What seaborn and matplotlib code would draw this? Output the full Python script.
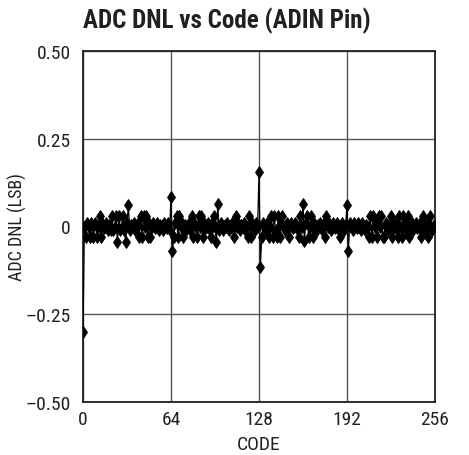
import matplotlib
matplotlib.use("Agg")
import matplotlib.pyplot as plt
import seaborn as sns
import pandas as pd

# DNL per output code (LSB)
DNL = [
    -0.30, 0.00, -0.03, 0.01, 0.00, -0.03, 0.01, -0.03, 0.005, 0.01, -0.03, 0.00, 0.03, -0.03, 0.01, -0.005,
    0.00, 0.01, -0.01, 0.005, -0.01, 0.03, -0.01, 0.00, 0.03, -0.045, 0.03, -0.01, 0.00, 0.03, -0.01, -0.043,
    0.01, 0.06, -0.01, 0.005, 0.00, 0.01, -0.01, 0.00, 0.01, -0.03, 0.03, -0.03, 0.03, 0.00, 0.03, -0.03,
    0.01, -0.03, 0.00, 0.01, -0.005, 0.00, 0.01, -0.01, 0.005, 0.00, -0.01, 0.01, 0.00, -0.005, 0.01, -0.01,
    0.085, -0.07, -0.03, 0.01, 0.03, -0.03, 0.03, 0.00, 0.01, -0.03, 0.005, -0.01, 0.00, 0.01, -0.01, 0.03,
    -0.03, 0.01, 0.00, -0.03, 0.03, 0.00, 0.03, -0.03, 0.01, -0.005, 0.00, 0.01, -0.01, -0.03, 0.01, 0.03,
    0.00, -0.045, 0.065, -0.01, 0.01, 0.00, -0.01, 0.005, 0.00, 0.01, -0.01, 0.00, 0.01, -0.005, -0.03, 0.03,
    0.00, 0.01, -0.01, 0.005, 0.00, 0.01, -0.01, 0.00, -0.03, 0.03, -0.03, 0.01, 0.00, -0.01, 0.01, 0.00,
    0.155, -0.115, -0.03, 0.01, 0.00, -0.01, 0.01, -0.03, 0.00, 0.03, -0.03, 0.03, -0.01, -0.03, 0.03, -0.03,
    0.01, 0.03, 0.00, -0.01, 0.01, 0.00, -0.03, 0.01, 0.00, -0.005, 0.01, 0.00, -0.01, -0.03, 0.03, 0.00,
    0.065, -0.04, 0.01, 0.03, -0.03, 0.00, 0.03, -0.03, 0.01, 0.00, -0.01, 0.005, 0.01, 0.00, -0.01, 0.01,
    -0.03, 0.03, 0.00, 0.01, -0.01, 0.00, 0.01, -0.005, 0.00, 0.01, -0.01, -0.03, 0.01, 0.00, -0.01, 0.005,
    0.06, -0.07, 0.01, 0.00, -0.01, 0.01, 0.00, -0.005, 0.01, 0.00, -0.01, 0.01, 0.00, -0.01, 0.005, 0.00,
    -0.03, 0.03, -0.03, 0.03, 0.00, 0.01, -0.03, 0.03, 0.00, 0.03, -0.03, -0.03, 0.01, 0.00, -0.01, 0.01,
    0.03, -0.03, 0.00, 0.01, -0.01, -0.03, 0.03, 0.00, -0.03, 0.03, 0.01, -0.01, 0.03, -0.03, 0.00, 0.01,
    -0.01, 0.00, 0.01, -0.005, 0.00, 0.01, -0.03, 0.03, 0.00, -0.01, 0.01, -0.03, 0.03, 0.00, -0.01, 0.005,
]
CODES = list(range(len(DNL)))

X_TICKS = [0, 64, 128, 192, 256]
Y_TICKS = [0.5, 0.25, 0, -0.25, -0.5]
Y_TICK_LABELS = ["0.50", "0.25", "0", "\u20130.25", "\u20130.50"]

sns.set_style("white")
FONT = ["Roboto Condensed", "Archivo Narrow", "Liberation Sans", "DejaVu Sans"]
plt.rcParams["font.family"] = FONT
TEXT_COLOR = "#231f20"

df = pd.DataFrame({"code": CODES, "dnl": DNL})

fig = plt.figure(figsize=(4.69, 4.56), dpi=100)
ax = fig.add_axes([83 / 469, 1 - 403 / 456, 352 / 469, 351 / 456])

sns.lineplot(data=df, x="code", y="dnl", ax=ax, color="black", linewidth=0.9,
             marker="d", markersize=6, markeredgecolor="black", markerfacecolor="black",
             markeredgewidth=0.6, zorder=3)

ax.set_xlim(0, 256)
ax.set_ylim(-0.5, 0.5)
ax.set_xticks(X_TICKS)
ax.set_yticks(Y_TICKS)
ax.set_yticklabels(Y_TICK_LABELS)
ax.tick_params(axis="both", length=0, labelsize=14, colors=TEXT_COLOR)
ax.tick_params(axis="y", pad=9)
ax.tick_params(axis="x", pad=6)
ax.grid(True, color="#555555", linewidth=1.0)
for s in ax.spines.values():
    s.set_color(TEXT_COLOR)
    s.set_linewidth(1.3)

ax.set_xlabel("CODE", fontsize=14, color=TEXT_COLOR, labelpad=5)
ax.set_ylabel("ADC DNL (LSB)", fontsize=13, color=TEXT_COLOR)
ax.yaxis.set_label_coords(-0.16, 0.5)

fig.text(83 / 469, 1 - 28 / 456, "ADC DNL vs Code (ADIN Pin)", fontsize=18,
         fontweight="bold", color=TEXT_COLOR, ha="left", va="baseline", family=FONT)

fig.savefig("out.png", dpi=100)
